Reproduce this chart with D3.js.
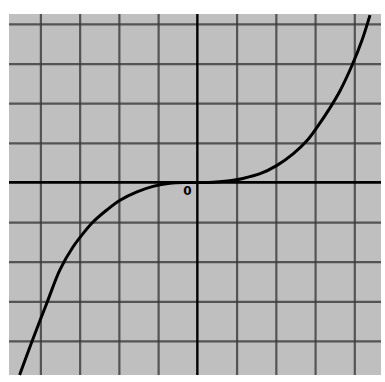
<!DOCTYPE html>
<html>
<head>
<meta charset="utf-8">
<script src="https://cdn.jsdelivr.net/npm/d3@7"></script>
<style>
  body { margin: 0; background: #fff; }
</style>
</head>
<body>
<div id="chart"></div>
<script>
// grid positions, in graph units
var xTicks = [-4, -3, -2, -1, 1, 2, 3, 4];
var yTicks = [-4, -3, -2, -1, 1, 2, 3, 4];

// points
var curveX = [-4.53, -4.21, -3.83, -3.5, -3.17, -2.92, -2.66, -2.3, -1.97, -1.54, -1.13, -0.7, -0.3, 0, 0.4, 0.83, 1.16, 1.6, 2.03, 2.44, 2.79, 3.07, 3.38, 3.64, 3.94, 4.2, 4.4];
var curveY = [-4.86, -4.0, -3.03, -2.2, -1.63, -1.3, -1.0, -0.69, -0.45, -0.24, -0.1, -0.02, 0, 0, 0.005, 0.04, 0.1, 0.22, 0.43, 0.72, 1.05, 1.42, 1.88, 2.32, 2.95, 3.6, 4.22];

function init(){

    var w = 385;
    var h = 382;

    var x = d3.scaleLinear()
              .domain([-4.8, 4.68])
              .range([9, 381]);

    var y = d3.scaleLinear()
              .domain([4.25, -4.86])
              .range([14, 375]);

    var svg = d3.select("#chart")
                .append("svg")
                .attr("width", w)
                .attr("height", h);

    // speckled paper
    svg.append("rect")
       .attr("x", x(-4.8))
       .attr("y", y(4.25))
       .attr("width", x(4.68) - x(-4.8))
       .attr("height", y(-4.86) - y(4.25))
       .attr("fill", "#bfbfbf");

    // grid lines
    svg.append("g")
       .attr("transform", "translate(0," + y(-4.86) + ")")
       .call(d3.axisBottom(x).tickValues(xTicks).tickSize(-(y(-4.86) - y(4.25))).tickFormat(""));

    svg.append("g")
       .attr("transform", "translate(" + x(-4.8) + ",0)")
       .call(d3.axisLeft(y).tickValues(yTicks).tickSize(-(x(4.68) - x(-4.8))).tickFormat(""));

    svg.selectAll(".domain").remove();
    svg.selectAll(".tick line")
       .attr("stroke", "#3a3a3a")
       .attr("stroke-width", 2.2)
       .attr("stroke-opacity", 0.8);

    // axes through the origin
    svg.append("line")
       .attr("x1", x(-4.8)).attr("x2", x(4.68))
       .attr("y1", y(0)).attr("y2", y(0))
       .attr("stroke", "#000")
       .attr("stroke-width", 2.6);

    svg.append("line")
       .attr("x1", x(0)).attr("x2", x(0))
       .attr("y1", y(4.25)).attr("y2", y(-4.86))
       .attr("stroke", "#000")
       .attr("stroke-width", 2.4);

    svg.append("text")
       .attr("x", x(0) - 10)
       .attr("y", y(0) + 13)
       .attr("text-anchor", "middle")
       .attr("font-family", "DejaVu Sans, sans-serif")
       .attr("font-size", 12)
       .attr("font-weight", "bold")
       .text("0");

    // the curve
    var pts = curveX.map(function(d, i){ return [d, curveY[i]]; });

    var line = d3.line()
                 .x(function(d){ return x(d[0]); })
                 .y(function(d){ return y(d[1]); })
                 .curve(d3.curveCatmullRom.alpha(0.5));

    svg.append("path")
       .datum(pts)
       .attr("d", line)
       .attr("fill", "none")
       .attr("stroke", "#000")
       .attr("stroke-width", 3);
}

window.onload = init;
</script>
</body>
</html>
